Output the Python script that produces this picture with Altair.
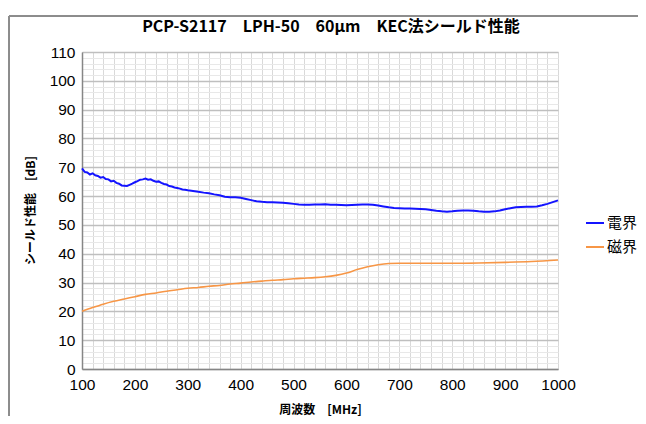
import altair as alt
import pandas as pd

# 電界 (electric field) data
freq_e = [100, 105, 110, 115, 120, 125, 130, 135, 140, 145, 150, 155, 160, 165, 170, 175,
          180, 185, 190, 195, 200, 205, 210, 215, 220, 225, 230, 235, 240, 245, 250, 255,
          260, 265, 270, 275, 280, 285, 290, 295, 300,
          310, 320, 330, 340, 350, 360, 370, 380, 390, 400, 410, 420, 430, 440, 450, 460,
          470, 480, 490, 500, 510, 520, 530, 540, 550, 560, 570, 580, 590, 600, 610, 620,
          630, 640, 650, 660, 670, 680, 690, 700, 710, 720, 730, 740, 750, 760, 770, 780,
          790, 800, 810, 820, 830, 840, 850, 860, 870, 880, 890, 900, 910, 920, 930, 940,
          950, 960, 970, 980, 990, 1000]
e_vals = [69.6, 68.4, 68.2, 67.5, 67.9, 67.2, 67.0, 66.4, 66.6, 65.9, 65.8, 65.1, 65.3, 64.6,
          64.3, 63.7, 63.6, 63.5, 63.9, 64.3, 64.8, 65.2, 65.7, 65.8, 66.1, 65.7, 65.8, 65.3,
          65.0, 65.1, 64.6, 64.2, 64.0, 63.5, 63.3, 63.0, 62.8, 62.6, 62.3, 62.2, 62.0,
          61.8, 61.5, 61.2, 61.0, 60.6, 60.3, 59.8, 59.6, 59.6, 59.4, 59.0, 58.6, 58.2, 58.0,
          57.9, 57.9, 57.8, 57.7, 57.5, 57.3, 57.1, 57.0, 57.0, 57.1, 57.1, 57.2, 57.0, 57.0,
          56.9, 56.8, 56.9, 57.0, 57.1, 57.1, 57.0, 56.7, 56.4, 56.1, 55.9, 55.8, 55.7, 55.7,
          55.6, 55.5, 55.4, 55.2, 54.9, 54.7, 54.6, 54.7, 54.9, 55.0, 55.0, 54.9, 54.7, 54.6,
          54.6, 54.7, 55.0, 55.4, 55.8, 56.1, 56.2, 56.3, 56.3, 56.4, 56.8, 57.3, 57.9, 58.5]

# 磁界 (magnetic field) data
freq_h = [100, 120, 140, 160, 180, 200, 220, 240, 260, 280, 300, 320, 340, 360, 380, 400,
          420, 440, 460, 480, 500, 520, 540, 560, 580, 600, 620, 640, 660, 680, 700, 750,
          800, 850, 900, 950, 1000]
h_vals = [20.0, 21.3, 22.5, 23.5, 24.3, 25.1, 25.9, 26.4, 27.0, 27.5, 28.0, 28.3, 28.7, 29.0,
          29.5, 29.8, 30.2, 30.5, 30.8, 31.0, 31.3, 31.5, 31.7, 32.0, 32.5, 33.3, 34.5, 35.5,
          36.2, 36.6, 36.7, 36.7, 36.7, 36.8, 37.0, 37.3, 37.8]

series = ["電界", "磁界"]
colors = ["#1414ff", "#f79646"]
x_ticks = list(range(100, 1001, 20))
y_ticks = list(range(0, 111, 2))

df_e = pd.DataFrame({"f": freq_e, "v": e_vals, "s": series[0]})
df_h = pd.DataFrame({"f": freq_h, "v": h_vals, "s": series[1]})

jp = "Noto Sans CJK JP"
num = "Liberation Sans"

xenc = alt.X("f:Q", scale=alt.Scale(domain=[100, 1000], nice=False, zero=False),
             axis=alt.Axis(values=x_ticks, format="d",
                           labelExpr="datum.value % 100 === 0 ? datum.label : ''",
                           labelOverlap=False, labelFlush=False, ticks=False,
                           labelFont=num, labelFontSize=15.5, labelColor="#000000",
                           labelPadding=8,
                           gridColor="#d9d9d9", gridWidth=1,
                           domainColor="#868686", domainWidth=1.5,
                           title="周波数　[MHz]", titleFont=jp, titleFontSize=12,
                           titleFontWeight="bold", titleColor="#000000",
                           titleX=238, titleY=40, titleBaseline="middle"))
yenc = alt.Y("v:Q", scale=alt.Scale(domain=[0, 110], nice=False),
             axis=alt.Axis(values=y_ticks, format="d",
                           labelExpr="datum.value % 10 === 0 ? datum.label : ''",
                           labelOverlap=False, labelFlush=False, ticks=False,
                           labelFont=num, labelFontSize=15.5, labelColor="#000000",
                           labelPadding=7,
                           gridColor=alt.condition("datum.value % 10 === 0",
                                                   alt.value("#bfbfbf"), alt.value("#e8e8e8")),
                           gridWidth=alt.condition("datum.value % 10 === 0",
                                                   alt.value(1.5), alt.value(1)),
                           domainColor="#868686", domainWidth=1.5,
                           title="シールド性能　[dB]", titleFont=jp, titleFontSize=12,
                           titleFontWeight="bold", titleColor="#000000",
                           titleX=-52, titleY=158, titleBaseline="middle", titleAngle=270))

cenc = alt.Color("s:N", scale=alt.Scale(domain=series, range=colors),
                 legend=alt.Legend(title=None, orient="none", legendX=503, legendY=161,
                                   symbolType="stroke", symbolStrokeWidth=2, symbolSize=324,
                                   labelFont=jp, labelFontSize=15, labelColor="#000000",
                                   rowPadding=6, labelOffset=2))

line_e = alt.Chart(df_e).mark_line(strokeWidth=2).encode(x=xenc, y=yenc, color=cenc)
line_h = alt.Chart(df_h).mark_line(strokeWidth=1.6, interpolate="monotone").encode(
    x=xenc, y=yenc, color=cenc)

frame = alt.Chart(df_e).mark_rect(fillOpacity=0, stroke="#8c8c8c", strokeWidth=1).encode(
    x=alt.value(-73), x2=alt.value(640), y=alt.value(-36), y2=alt.value(460))

chart = alt.layer(line_h, line_e, frame).properties(
    width=476, height=317,
    title=alt.TitleParams("PCP-S2117　LPH-50　60μm　KEC法シールド性能", font=jp,
                          fontSize=16, fontWeight="bold", color="#000000",
                          anchor="middle", frame="group", dx=11, offset=-19),
    autosize=alt.AutoSizeParams(type="none"),
    padding={"left": 74, "top": 44, "right": 80, "bottom": 47},
).configure_view(stroke="#a6a6a6", strokeWidth=1).configure(background="#ffffff")

chart.save("out.html", embed_options={"renderer": "svg", "actions": False})
